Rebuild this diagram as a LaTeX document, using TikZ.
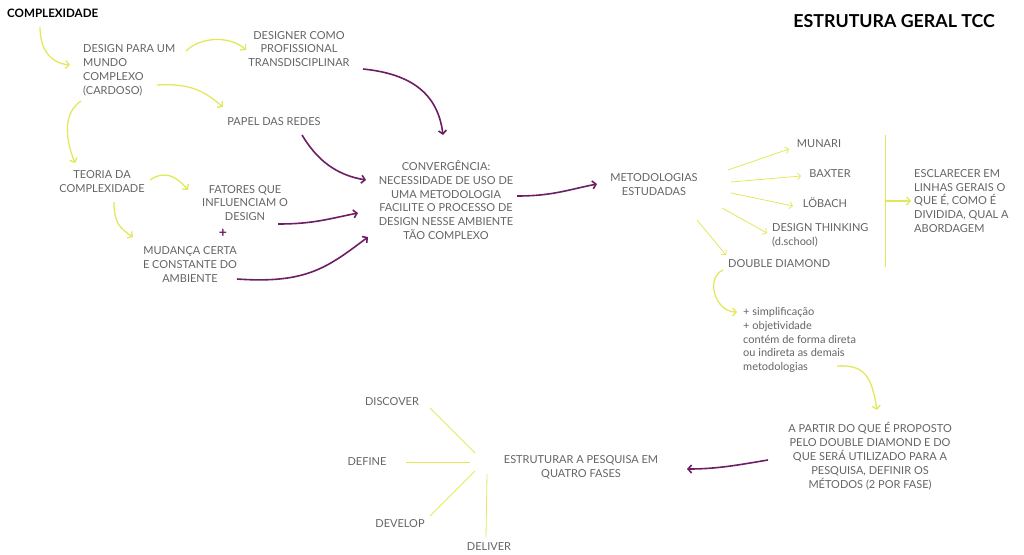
\documentclass[tikz,border=0pt]{standalone}
\usepackage{fontspec}
\setmainfont{Lato}
\usetikzlibrary{arrows.meta}
\definecolor{lime}{RGB}{226,232,90}
\definecolor{plum}{RGB}{108,30,100}
\definecolor{txtgray}{RGB}{100,100,100}

\begin{document}
\begin{tikzpicture}[x=1pt,y=-1pt,
    lbl/.style={font=\fontsize{11}{13.9}\selectfont, text=txtgray, align=center, inner sep=0pt},
    lbll/.style={lbl, align=left},
    ylink/.style={draw=lime, line width=1.3pt, -{Straight Barb[length=3.5pt,width=8pt]}},
    plink/.style={draw=plum, line width=1.6pt, -{Straight Barb[length=3.5pt,width=8pt]}},
    ythin/.style={draw=lime, line width=0.8pt, -{Straight Barb[length=3pt,width=7pt]}},
    yline/.style={draw=lime, line width=0.8pt}]
    \useasboundingbox (0,0) rectangle (1024,554);

    \node[font=\bfseries\fontsize{11.6}{13}\selectfont, anchor=west, inner sep=0pt] (cx) at (7,13) {COMPLEXIDADE};
    \node[font=\bfseries\fontsize{17.8}{20}\selectfont, anchor=east, inner sep=0pt] (ttl) at (995,21) {ESTRUTURA GERAL TCC};
    \node[lbll, anchor=west] (dpm) at (83,70.5) {DESIGN PARA UM\\MUNDO\\COMPLEXO\\(CARDOSO)};
    \node[lbl] (dcp) at (299,49) {DESIGNER COMO\\PROFISSIONAL\\TRANSDISCIPLINAR};
    \node[lbl] (prd) at (274,122) {PAPEL DAS REDES};
    \node[lbl] (tdc) at (102,181.5) {TEORIA DA\\COMPLEXIDADE};
    \node[lbl] (fqi) at (245,203) {FATORES QUE\\INFLUENCIAM O\\DESIGN};
    \node[text=plum, font=\bfseries\fontsize{14}{14}\selectfont, inner sep=0pt] (pls) at (223,233) {+};
    \node[lbl] (mca) at (190,264.5) {MUDANÇA CERTA\\E CONSTANTE DO\\AMBIENTE};
    \node[lbl] (cnv) at (446,200) {CONVERGÊNCIA:\\NECESSIDADE DE USO DE\\UMA METODOLOGIA\\FACILITE O PROCESSO DE\\DESIGN NESSE AMBIENTE\\TÃO COMPLEXO};
    \node[lbl] (met) at (654,185) {METODOLOGIAS\\ESTUDADAS};
    \node[lbl] (mun) at (819,144) {MUNARI};
    \node[lbl] (bax) at (830,174) {BAXTER};
    \node[lbl] (lob) at (825,203) {LÖBACH};
    \node[lbll, anchor=west] (dth) at (772,235) {DESIGN THINKING\\(d.school)};
    \node[lbll, anchor=west] (ddi) at (728,264) {DOUBLE DIAMOND};
    \node[lbll, anchor=west] (esc) at (914,201) {ESCLARECER EM\\LINHAS GERAIS O\\QUE É, COMO É\\DIVIDIDA, QUAL A\\ABORDAGEM};
    \node[lbll, anchor=west] (smp) at (743,340) {+ simplificação\\+ objetividade\\contém de forma direta\\ou indireta as demais\\metodologias};
    \node[lbl] (apd) at (870,456) {A PARTIR DO QUE É PROPOSTO\\PELO DOUBLE DIAMOND E DO\\QUE SERÁ UTILIZADO PARA A\\PESQUISA, DEFINIR OS\\MÉTODOS (2 POR FASE)};
    \node[lbl] (est) at (581,467.5) {ESTRUTURAR A PESQUISA EM\\QUATRO FASES};
    \node[lbl] (dis) at (392,402) {DISCOVER};
    \node[lbl] (def) at (367,462) {DEFINE};
    \node[lbl] (dev) at (400,524) {DEVELOP};
    \node[lbl] (del) at (489,547) {DELIVER};
    \coordinate (brk) at (885,201);

    \draw[ylink] ([xshift=33pt,yshift=-14pt]cx.west) .. controls +(0,22) and +(-20,-2) .. ([xshift=-13pt,yshift=5.5pt]dpm.west);
    \draw[ylink] ([xshift=103pt,yshift=19.5pt]dpm.west) .. controls +(15,-15) and +(-15,-14) .. ([xshift=-53pt,yshift=-1pt]dcp.center);
    \draw[ylink] ([xshift=74pt,yshift=-14.5pt]dpm.west) .. controls +(35,-2) and +(-18,-15) .. ([xshift=-51pt,yshift=15pt]prd.center);
    \draw[ylink] ([xshift=-2pt,yshift=-30.5pt]dpm.west) .. controls +(-18,12) and +(-10,-25) .. ([xshift=-27pt,yshift=18.5pt]tdc.center);
    \draw[ylink] ([xshift=48pt,yshift=1.5pt]tdc.center) .. controls +(15,-10) and +(-12,-14) .. ([xshift=-57pt,yshift=13pt]fqi.center);
    \draw[ylink] ([xshift=12pt,yshift=-20.5pt]tdc.center) .. controls +(0,22) and +(-12,-8) .. ([xshift=-57pt,yshift=27.5pt]mca.center);

    \draw[plink] ([xshift=64pt,yshift=-20pt]dcp.center) .. controls +(50,5) and +(-5,-40) .. ([xshift=-3pt,yshift=65pt]cnv.center);
    \draw[plink] ([xshift=28pt,yshift=-13pt]prd.center) .. controls +(15,25) and +(-30,-5) .. ([xshift=-80pt,yshift=20pt]cnv.center);
    \draw[plink] ([xshift=33pt,yshift=-21pt]fqi.center) .. controls +(35,0) and +(-30,6) .. ([xshift=-88pt,yshift=-13pt]cnv.center);
    \draw[plink] ([xshift=47pt,yshift=-14.5pt]mca.center) .. controls +(70,5) and +(-40,30) .. ([xshift=-78pt,yshift=-37pt]cnv.center);
    \draw[plink] ([xshift=71pt,yshift=4pt]cnv.center) .. controls +(35,0) and +(-30,6) .. ([xshift=-57pt,yshift=1pt]met.center);

    \draw[ythin] ([xshift=74pt,yshift=15pt]met.center) -- ([xshift=-30pt,yshift=-5pt]mun.center);
    \draw[ythin] ([xshift=77pt,yshift=3pt]met.center) -- ([xshift=-29pt,yshift=-2pt]bax.center);
    \draw[ythin] ([xshift=77pt,yshift=-8pt]met.center) -- ([xshift=-32pt,yshift=-3pt]lob.center);
    \draw[ythin] ([xshift=68pt,yshift=-23pt]met.center) -- ([xshift=-5pt,yshift=2pt]dth.west);
    \draw[ythin] ([xshift=43pt,yshift=-35pt]met.center) -- ([xshift=-2pt,yshift=9pt]ddi.west);

    \draw[yline] ([yshift=66pt]brk) -- ([yshift=-66pt]brk);
    \draw[ylink] (brk) -- ([xshift=-3pt]esc.west);

    \draw[ylink] ([xshift=-5pt,yshift=-6pt]ddi.west) .. controls +(-18,8) and +(-22,0) .. ([xshift=-6pt,yshift=28pt]smp.west);
    \draw[ylink] ([xshift=94pt,yshift=-26pt]smp.west) .. controls +(30,-2) and +(-5,-30) .. ([xshift=7pt,yshift=46pt]apd.center);
    \draw[plink] ([xshift=-102pt,yshift=-4pt]apd.center) .. controls +(-30,5) and +(30,0) .. ([xshift=106pt,yshift=-1.5pt]est.center);

    \draw[yline] ([xshift=-106pt,yshift=14.5pt]est.center) -- ([xshift=38pt,yshift=-6pt]dis.center);
    \draw[yline] ([xshift=-111pt,yshift=5.5pt]est.center) -- ([xshift=39pt]def.center);
    \draw[yline] ([xshift=-106pt,yshift=-3.5pt]est.center) -- ([xshift=30pt,yshift=8pt]dev.center);
    \draw[yline] ([xshift=-94pt,yshift=-6.5pt]est.center) -- ([xshift=-3pt,yshift=10pt]del.center);
\end{tikzpicture}
\end{document}
